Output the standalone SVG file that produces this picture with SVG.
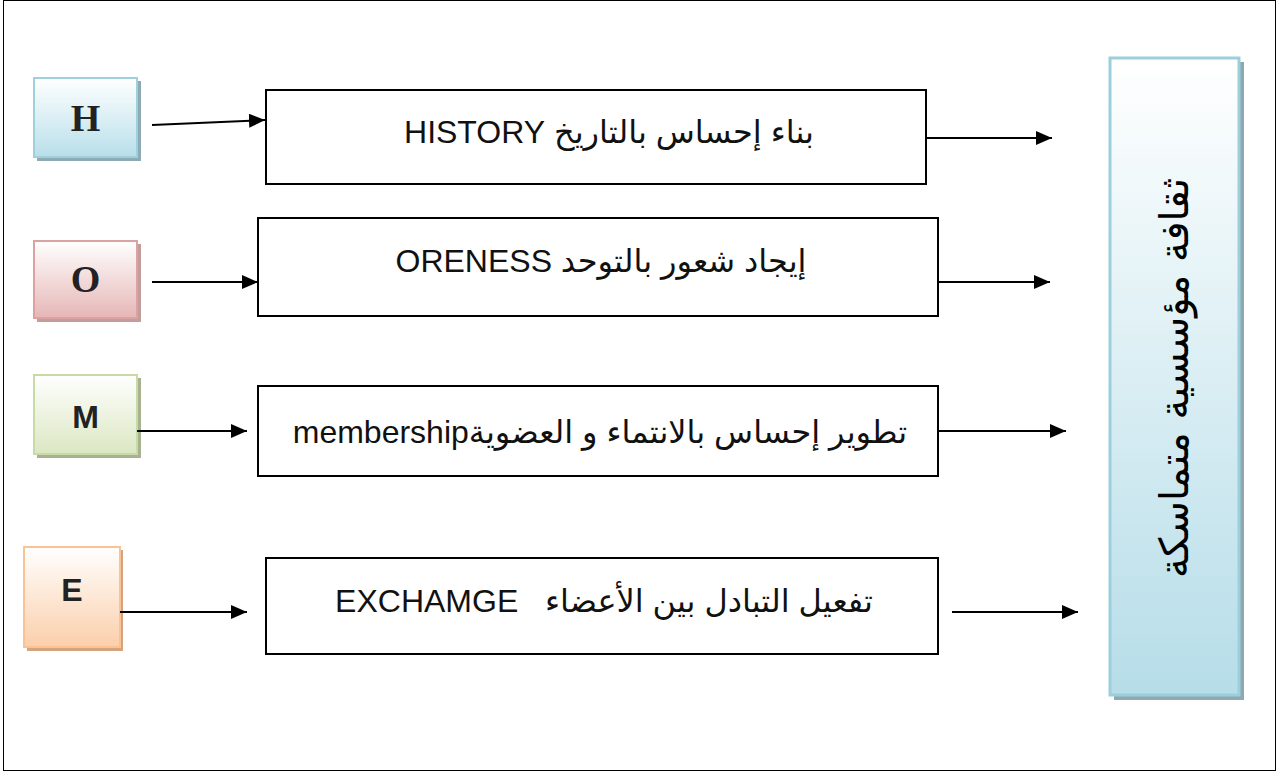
<svg xmlns="http://www.w3.org/2000/svg" width="1279" height="773" viewBox="0 0 1279 773">
<defs>
  <linearGradient id="gH" x1="0" y1="0" x2="0" y2="1"><stop offset="0" stop-color="#ffffff"/><stop offset="1" stop-color="#b8dfea"/></linearGradient>
  <linearGradient id="gO" x1="0" y1="0" x2="0" y2="1"><stop offset="0" stop-color="#ffffff"/><stop offset="1" stop-color="#e6b6b6"/></linearGradient>
  <linearGradient id="gM" x1="0" y1="0" x2="0" y2="1"><stop offset="0" stop-color="#ffffff"/><stop offset="1" stop-color="#dbe7c2"/></linearGradient>
  <linearGradient id="gE" x1="0" y1="0" x2="0" y2="1"><stop offset="0" stop-color="#ffffff"/><stop offset="1" stop-color="#fbcfab"/></linearGradient>
  <linearGradient id="gR" x1="0" y1="0" x2="0" y2="1"><stop offset="0" stop-color="#ffffff"/><stop offset="1" stop-color="#b6dde8"/></linearGradient>
  <marker id="ah" viewBox="0 0 16 14" refX="16" refY="7" markerWidth="16" markerHeight="14" markerUnits="userSpaceOnUse" orient="auto">
    <path d="M0,0 L16,7 L0,14 Z" fill="#000"/>
  </marker>
</defs>
<style>
  .box{fill:#fff;stroke:#000;stroke-width:2}
  .lbl{font-family:"Liberation Sans","DejaVu Sans",Arial,sans-serif;font-size:32px;fill:#111;text-anchor:middle;direction:rtl;unicode-bidi:embed;white-space:pre}
  .ser{font-family:"Liberation Serif","Times New Roman",serif;font-weight:bold;font-size:38px;fill:#222;text-anchor:middle}
  .sans{font-family:"Liberation Sans",Arial,sans-serif;font-weight:bold;font-size:32px;fill:#222;text-anchor:middle}
  .conn line{stroke:#000;stroke-width:2;marker-end:url(#ah)}
</style>
<rect x="3.5" y="0.5" width="1272" height="770" fill="#fff" stroke="#000" stroke-width="1"/>

<g id="nodeH">
  <rect x="37" y="81" width="104" height="80" fill="#8eaab4"/>
  <rect x="34" y="78" width="103" height="79" fill="url(#gH)" stroke="#9fd0dd" stroke-width="2"/>
  <text class="ser" x="85.5" y="131">H</text>
</g>
<g id="nodeO">
  <rect x="37" y="244" width="104" height="78" fill="#c49c9c"/>
  <rect x="34" y="241" width="103" height="77" fill="url(#gO)" stroke="#dca2a1" stroke-width="2"/>
  <text class="ser" x="85.5" y="292">O</text>
</g>
<g id="nodeM">
  <rect x="37" y="378" width="104" height="80" fill="#a9b290"/>
  <rect x="34" y="375" width="103" height="79" fill="url(#gM)" stroke="#c8daa6" stroke-width="2"/>
  <text class="sans" x="85.5" y="428">M</text>
</g>
<g id="nodeE">
  <rect x="27" y="550" width="96" height="101" fill="#d5a47f"/>
  <rect x="24" y="547" width="96" height="100" fill="url(#gE)" stroke="#fbc394" stroke-width="2"/>
  <text class="sans" x="72" y="601">E</text>
</g>

<g id="box1">
  <rect class="box" x="266" y="90" width="660" height="94"/>
  <text class="lbl" x="609" y="143">بناء إحساس بالتاريخ HISTORY</text>
</g>
<g id="box2">
  <rect class="box" x="258" y="218" width="680" height="98"/>
  <text class="lbl" x="601" y="272">إيجاد شعور بالتوحد ORENESS</text>
</g>
<g id="box3">
  <rect class="box" x="258" y="386" width="680" height="90"/>
  <text class="lbl" x="600" y="443">تطوير إحساس بالانتماء و العضويةmembership</text>
</g>
<g id="box4">
  <rect class="box" x="266" y="558" width="672" height="96"/>
  <text class="lbl" x="604" y="612" xml:space="preserve">تفعيل التبادل بين الأعضاء   EXCHAMGE</text>
</g>

<g id="culture">
  <rect x="1114" y="62" width="130" height="638" fill="#8fa9b2"/>
  <rect x="1110" y="58" width="129" height="637" fill="url(#gR)" stroke="#9ccfdc" stroke-width="3"/>
  <text transform="translate(1188,378) rotate(-90)" font-family="'DejaVu Serif','DejaVu Sans',serif" font-size="40" fill="#000" text-anchor="middle">ثقافة مؤسسية متماسكة</text>
</g>

<g id="connectors" class="conn">
  <line x1="152" y1="125" x2="265" y2="120"/>
  <line x1="152" y1="282" x2="258" y2="282"/>
  <line x1="137" y1="431" x2="247" y2="431"/>
  <line x1="120" y1="612" x2="247" y2="612"/>
  <line x1="926" y1="138" x2="1052" y2="138"/>
  <line x1="938" y1="282" x2="1050" y2="282"/>
  <line x1="938" y1="431" x2="1066" y2="431"/>
  <line x1="952" y1="612" x2="1078" y2="612"/>
</g>
</svg>
